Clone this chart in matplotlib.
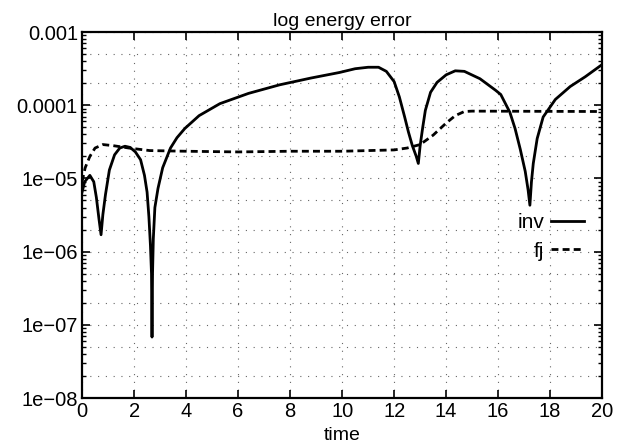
import numpy as np
import matplotlib
matplotlib.use('Agg')
import matplotlib.pyplot as plt
from matplotlib.ticker import LogLocator, FixedLocator, NullFormatter

plt.rcParams['font.family'] = ['Liberation Sans', 'DejaVu Sans']

# inv curve (solid)
inv_t = [0.0, 0.1, 0.3, 0.45, 0.55, 0.65, 0.73, 0.8, 0.9, 1.05, 1.25, 1.45,
         1.65, 1.85, 2.05, 2.25, 2.4, 2.5, 2.57, 2.63, 2.67, 2.69, 2.71, 2.74,
         2.8, 2.92, 3.1, 3.4, 3.65, 3.95, 4.5, 5.3, 6.4, 7.6, 8.8, 9.9, 10.5,
         11.0, 11.4, 11.7, 12.0, 12.2, 12.4, 12.55, 12.7, 12.85, 12.93, 13.0,
         13.1, 13.2, 13.4, 13.65, 14.0, 14.35, 14.7, 15.3, 15.9, 16.1, 16.45,
         16.65, 16.85, 17.04, 17.15, 17.22, 17.28, 17.35, 17.5, 17.73, 18.2,
         18.77, 19.35, 20.0]
inv_err = [6.5e-6, 9e-6, 1.1e-5, 9e-6, 5.5e-6, 2.8e-6, 1.7e-6, 3.2e-6, 6e-6,
           1.3e-5, 2.1e-5, 2.6e-5, 2.75e-5, 2.65e-5, 2.3e-5, 1.8e-5, 1.1e-5,
           6.5e-6, 3e-6, 1.2e-6, 5e-7, 6.8e-8, 5e-7, 1.5e-6, 4e-6, 7.3e-6,
           1.4e-5, 2.6e-5, 3.6e-5, 4.8e-5, 7.2e-5, 1.05e-4, 1.45e-4, 1.9e-4,
           2.35e-4, 2.8e-4, 3.15e-4, 3.3e-4, 3.3e-4, 2.9e-4, 2.1e-4, 1.3e-4,
           7e-5, 4.3e-5, 2.8e-5, 2e-5, 1.6e-5, 2.8e-5, 5e-5, 8.5e-5, 1.5e-4,
           2.05e-4, 2.6e-4, 2.95e-4, 2.9e-4, 2.3e-4, 1.6e-4, 1.4e-4, 8e-5,
           4.8e-5, 2.5e-5, 1.25e-5, 7e-6, 4.3e-6, 9e-6, 1.6e-5, 3.5e-5, 6.9e-5,
           1.2e-4, 1.8e-4, 2.45e-4, 3.6e-4]

# fj curve (dashed)
fj_t = [0.0, 0.12, 0.3, 0.5, 0.8, 1.2, 1.8, 2.6, 4.0, 6.0, 8.0, 10.0, 12.0,
        12.5, 13.0, 13.5, 14.0, 14.35, 14.7, 15.0, 20.0]
fj_err = [9e-6, 1.4e-5, 2e-5, 2.6e-5, 2.9e-5, 2.8e-5, 2.6e-5, 2.4e-5, 2.35e-5,
          2.3e-5, 2.35e-5, 2.35e-5, 2.45e-5, 2.6e-5, 2.9e-5, 3.9e-5, 5.7e-5,
          7.2e-5, 8.2e-5, 8.3e-5, 8.2e-5]

x_ticks = [0, 2, 4, 6, 8, 10, 12, 14, 16, 18, 20]
y_ticks = [1e-8, 1e-7, 1e-6, 1e-5, 1e-4, 1e-3]
y_ticklabels = ['1e\u221208', '1e\u221207', '1e\u221206', '1e\u221205', '0.0001', '0.001']

fig = plt.figure(figsize=(6.17, 4.47), dpi=100)
ax = fig.add_axes([0.133, 0.1096, 0.843, 0.8188])

ax.plot(inv_t, inv_err, color='black', lw=2.0, label='inv', solid_joinstyle='round')
ax.plot(fj_t, fj_err, color='black', lw=2.0, linestyle=(0, (2.5, 1.5)), label='fj')

ax.set_yscale('log')
ax.set_xlim(0, 20)
ax.set_ylim(1e-8, 1e-3)

ax.xaxis.set_major_locator(FixedLocator(x_ticks))
ax.yaxis.set_major_locator(FixedLocator(y_ticks))
ax.set_yticklabels(y_ticklabels)
ax.yaxis.set_minor_locator(LogLocator(base=10, subs=np.arange(2, 10)))
ax.yaxis.set_minor_formatter(NullFormatter())

ax.tick_params(which='major', direction='in', length=6, width=1.2,
               top=True, right=True, labelsize=14.5, pad=3)
ax.tick_params(which='minor', direction='in', length=3, width=1.0,
               left=True, right=True)

# sparse dotted grid like the scan
grid_kw = dict(color='0.4', lw=0.8, linestyle=(0, (1, 6)), zorder=0)
ax.grid(True, which='major', axis='both', **grid_kw)
for dec in y_ticks[:-1]:
    for m in (2, 5):
        ax.axhline(dec * m, **grid_kw)

for s in ax.spines.values():
    s.set_linewidth(1.6)

ax.set_title('log energy error', fontsize=14, pad=4)
ax.set_xlabel('time', fontsize=14, labelpad=4)

leg = ax.legend(loc='center right', bbox_to_anchor=(0.985, 0.44), frameon=False,
                markerfirst=False, fontsize=15, handlelength=1.6,
                handletextpad=0.3, labelspacing=0.45, borderpad=0)
for t in leg.get_texts():
    t.set_ha('right')

fig.savefig('out.png', dpi=100)
